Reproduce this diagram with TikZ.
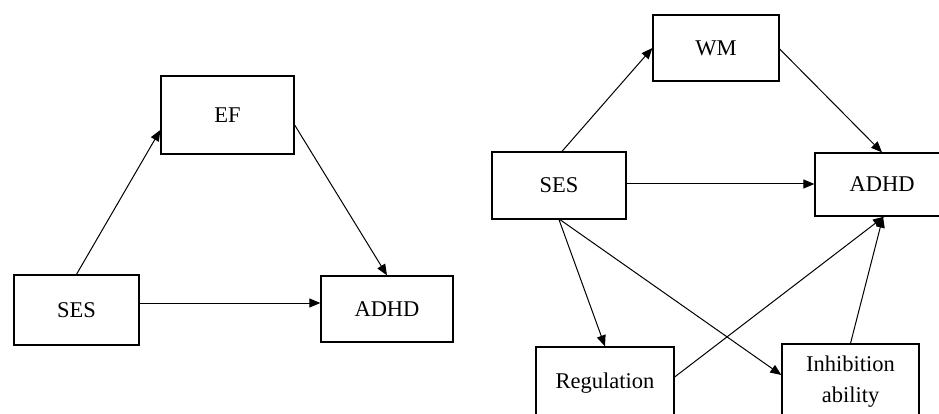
\documentclass[tikz,border=0pt]{standalone}
\usepackage{fontspec}
\setmainfont{Liberation Serif}
\usetikzlibrary{arrows.meta,calc}
\tikzset{
  box/.style={draw, line width=1.3pt, inner sep=0pt, align=center,
    font=\fontsize{22.5}{31}\selectfont},
  arr/.style={line width=1pt, -{Triangle[length=11pt,width=9pt]}}
}
\begin{document}
\begin{tikzpicture}[x=1pt,y=-1pt]
\useasboundingbox (0,0) rectangle (939,414);
\fill[white] (0,0) rectangle (939,414);
\clip (0,0) rectangle (939,414);
% left diagram
\node[box, minimum width=133pt, minimum height=78pt] (ef) at (227.5,115) {EF};
\node[box, minimum width=125pt, minimum height=70pt] (sesa) at (76.5,310) {SES};
\node[box, minimum width=132pt, minimum height=66pt] (adhda) at (387,309) {ADHD};
\draw[arr] (sesa.north) -- ($(ef.west)+(0,15)$);
\draw[arr] ($(ef.east)+(0,10)$) -- (adhda.north);
\draw[arr] ($(sesa.east)+(0,-7)$) -- ($(adhda.west)+(0,-6)$);
% right diagram
\node[box, minimum width=126pt, minimum height=66pt] (wm) at (716,48) {WM};
\node[box, minimum width=134pt, minimum height=67pt] (sesb) at (559,185.5) {SES};
\node[box, minimum width=134pt, minimum height=63pt] (adhdb) at (882,184.5) {ADHD};
\node[box, minimum width=138pt, minimum height=72pt] (reg) at (605,383) {Regulation};
\node[box, minimum width=137pt, minimum height=75pt] (inh) at (850.5,381.5) {Inhibition\\ability};
\draw[arr] ($(sesb.north)+(3,0)$) -- (wm.west);
\draw[arr] ($(wm.east)+(0,1)$) -- (adhdb.north);
\draw[arr] ($(sesb.east)+(0,-1.5)$) -- ($(adhdb.west)+(0,-0.5)$);
\draw[arr] (sesb.south) -- (reg.north);
\draw[arr] ($(sesb.south)+(1,0)$) -- ($(inh.west)+(0,-6.5)$);
\draw[arr] ($(reg.east)+(0,-6)$) -- ($(adhdb.south)+(2,0)$);
\draw[arr] (inh.north) -- ($(adhdb.south)+(1,0)$);
\end{tikzpicture}
\end{document}
